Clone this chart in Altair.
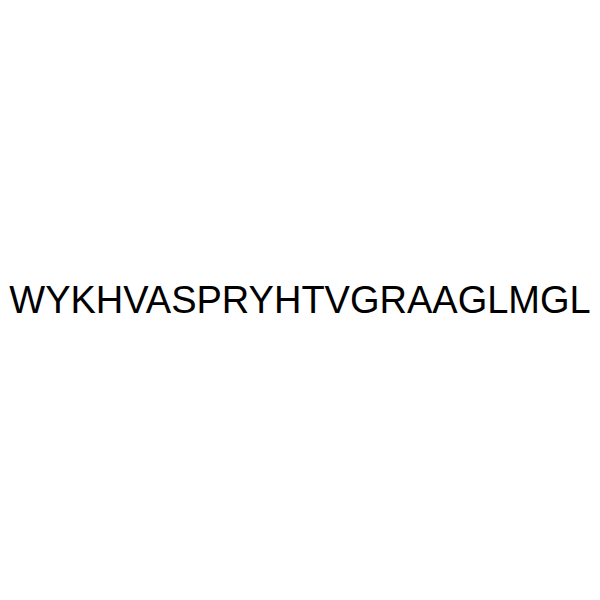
import altair as alt
import pandas as pd

labels = ["WYKHVASPRYHTVGRAAGLMGL"]

df = pd.DataFrame({"label": labels})

chart = alt.Chart(df).mark_text(
    font="Liberation Sans",
    fontSize=38,
    color="black",
    align="center",
    baseline="alphabetic",
).encode(
    text="label:N",
    x=alt.value(292),
    y=alt.value(304.5),
).properties(
    width=584,
    height=584,
    padding=0,
    autosize=alt.AutoSizeParams(type="none"),
).configure(background="white").configure_view(strokeWidth=0, stroke="transparent")

chart.save("out.html", embed_options={"renderer": "svg", "actions": False})
